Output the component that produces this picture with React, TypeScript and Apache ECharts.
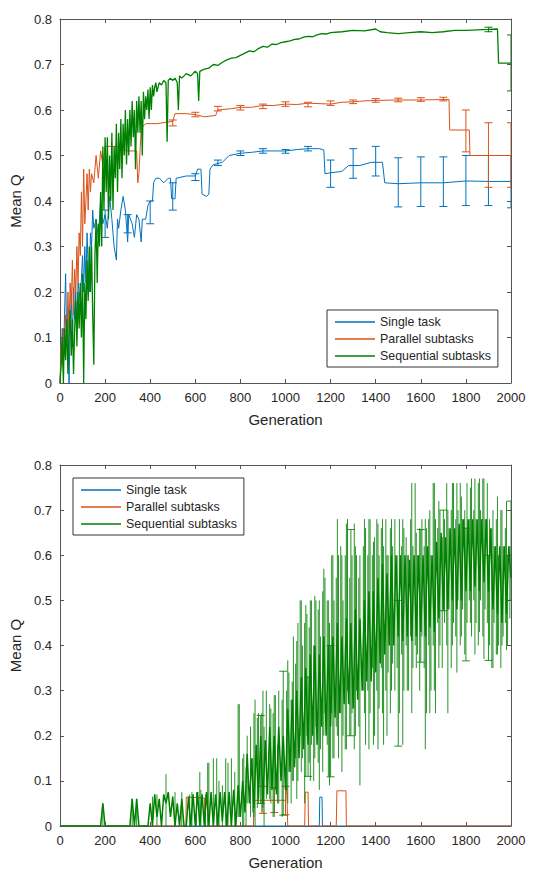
import React, { useEffect, useRef } from "react";
import * as echarts from "echarts";

// ---------------- DATA ----------------
const GEN_TICK_INTERVAL = 200;
const Q_TICK_INTERVAL = 0.1;
const SERIES_NAMES = ["Single task", "Parallel subtasks", "Sequential subtasks"];

// Top panel: [generation, mean Q]
const topSingle: [number, number][] = [
  [0, 0], [5, 0.05], [10, 0.12], [15, 0.03], [20, 0.15], [25, 0.24], [30, 0.08], [35, 0.16], [40, 0.0], [45, 0.12],
  [50, 0.2], [55, 0.08], [60, 0.21], [65, 0.14], [70, 0.2], [75, 0.12], [80, 0.22], [90, 0.18], [100, 0.28], [105, 0.2],
  [110, 0.3], [115, 0.22], [120, 0.33], [125, 0.25], [130, 0.2], [135, 0.33], [140, 0.3], [145, 0.38], [150, 0.34],
  [160, 0.36], [170, 0.32], [180, 0.4], [190, 0.35], [200, 0.37], [210, 0.34], [220, 0.41], [230, 0.36], [240, 0.3],
  [250, 0.27], [255, 0.36], [260, 0.34], [270, 0.38], [280, 0.41], [290, 0.38], [300, 0.31], [305, 0.37], [320, 0.35],
  [330, 0.32], [340, 0.37], [350, 0.36], [360, 0.31], [365, 0.36], [380, 0.36], [390, 0.39], [400, 0.4], [410, 0.4],
  [415, 0.44], [425, 0.45], [440, 0.45], [460, 0.44], [480, 0.45], [490, 0.45], [495, 0.405], [510, 0.405], [515, 0.45],
  [560, 0.455], [600, 0.455], [610, 0.47], [625, 0.47], [630, 0.415], [650, 0.41], [660, 0.415], [665, 0.47], [680, 0.48],
  [720, 0.485], [750, 0.5], [800, 0.505], [850, 0.507], [900, 0.51], [950, 0.51], [1000, 0.51], [1050, 0.513],
  [1100, 0.515], [1150, 0.515], [1170, 0.512], [1175, 0.46], [1200, 0.462], [1250, 0.465], [1280, 0.478], [1330, 0.478],
  [1380, 0.485], [1430, 0.485], [1440, 0.44], [1500, 0.438], [1600, 0.44], [1700, 0.44], [1800, 0.444], [1900, 0.443],
  [2000, 0.443],
];

const topParallel: [number, number][] = [
  [0, 0], [5, 0.08], [10, 0.04], [15, 0.12], [20, 0.06], [25, 0.15], [30, 0.09], [35, 0.2], [40, 0.12], [45, 0.22],
  [50, 0.17], [55, 0.27], [60, 0.15], [65, 0.25], [70, 0.2], [75, 0.3], [80, 0.22], [85, 0.33], [90, 0.28], [95, 0.42],
  [100, 0.3], [105, 0.47], [110, 0.35], [115, 0.4], [120, 0.46], [125, 0.38], [130, 0.47], [135, 0.42], [140, 0.46],
  [150, 0.44], [160, 0.5], [170, 0.45], [180, 0.51], [190, 0.48], [200, 0.52], [250, 0.52], [300, 0.51], [340, 0.51],
  [345, 0.44], [350, 0.46], [360, 0.56], [380, 0.57], [430, 0.57], [470, 0.573], [500, 0.575], [510, 0.592], [560, 0.592],
  [600, 0.59], [640, 0.585], [690, 0.588], [700, 0.6], [760, 0.603], [800, 0.606], [850, 0.606], [900, 0.61], [950, 0.61],
  [1000, 0.613], [1050, 0.612], [1100, 0.615], [1200, 0.613], [1250, 0.617], [1300, 0.618], [1350, 0.62], [1400, 0.621],
  [1500, 0.622], [1600, 0.622], [1700, 0.623], [1725, 0.623], [1728, 0.556], [1815, 0.556], [1818, 0.5], [2000, 0.5],
];

const topSequential: [number, number][] = [
  [0, 0], [5, 0.04], [10, 0.1], [15, 0.0], [20, 0.12], [25, 0.05], [30, 0.14], [35, 0.02], [40, 0.1], [45, 0.16],
  [50, 0.06], [55, 0.14], [60, 0.02], [65, 0.12], [70, 0.18], [75, 0.08], [80, 0.2], [85, 0.12], [90, 0.22], [95, 0.1],
  [100, 0.24], [105, 0.0], [110, 0.22], [115, 0.14], [120, 0.27], [125, 0.18], [130, 0.3], [135, 0.2], [140, 0.3],
  [145, 0.15], [150, 0.04], [155, 0.28], [160, 0.36], [165, 0.22], [170, 0.35], [175, 0.3], [180, 0.42], [185, 0.3],
  [190, 0.52], [195, 0.38], [200, 0.54], [205, 0.42], [210, 0.54], [215, 0.36], [220, 0.5], [225, 0.4], [230, 0.55],
  [235, 0.38], [240, 0.52], [245, 0.45], [250, 0.57], [255, 0.42], [260, 0.55], [265, 0.47], [270, 0.58], [275, 0.45],
  [280, 0.57], [285, 0.5], [290, 0.6], [295, 0.48], [300, 0.58], [305, 0.5], [310, 0.6], [315, 0.52], [320, 0.62],
  [325, 0.54], [330, 0.6], [335, 0.47], [340, 0.62], [345, 0.55], [350, 0.63], [355, 0.55], [360, 0.62], [365, 0.5],
  [370, 0.64], [375, 0.58], [380, 0.63], [385, 0.6], [390, 0.645], [395, 0.58], [400, 0.65], [405, 0.6], [410, 0.655],
  [415, 0.63], [420, 0.65], [425, 0.66], [430, 0.64], [440, 0.66], [450, 0.655], [460, 0.665], [470, 0.66], [475, 0.53],
  [480, 0.665], [490, 0.67], [500, 0.665], [510, 0.67], [520, 0.66], [525, 0.6], [530, 0.675], [540, 0.67], [560, 0.68],
  [580, 0.675], [600, 0.685], [610, 0.68], [615, 0.62], [620, 0.685], [640, 0.69], [660, 0.692], [680, 0.7], [700, 0.698],
  [720, 0.705], [740, 0.71], [760, 0.714], [780, 0.715], [800, 0.72], [820, 0.725], [840, 0.73], [860, 0.728], [880, 0.735],
  [900, 0.74], [920, 0.738], [940, 0.745], [960, 0.744], [980, 0.748], [1000, 0.75], [1020, 0.752], [1040, 0.755],
  [1060, 0.756], [1080, 0.76], [1100, 0.762], [1120, 0.761], [1140, 0.765], [1160, 0.768], [1180, 0.767], [1200, 0.77],
  [1250, 0.772], [1300, 0.775], [1350, 0.774], [1400, 0.778], [1420, 0.772], [1450, 0.77], [1500, 0.768], [1550, 0.77],
  [1600, 0.772], [1650, 0.77], [1700, 0.772], [1750, 0.775], [1800, 0.775], [1850, 0.776], [1900, 0.777], [1940, 0.778],
  [1945, 0.703], [2000, 0.703],
];

// Top panel error bars: [generation, low, high]
const topSingleErr: [number, number, number][] = [
  [200, 0.32, 0.38], [300, 0.33, 0.37], [400, 0.35, 0.4], [500, 0.38, 0.44], [600, 0.445, 0.46], [700, 0.478, 0.49],
  [800, 0.5, 0.51], [900, 0.505, 0.515], [1000, 0.505, 0.513], [1100, 0.51, 0.52], [1200, 0.43, 0.49], [1300, 0.45, 0.515],
  [1400, 0.455, 0.52], [1500, 0.387, 0.495], [1600, 0.388, 0.497], [1700, 0.388, 0.497], [1800, 0.39, 0.5],
  [1900, 0.39, 0.5], [2000, 0.385, 0.5],
];
const topParallelErr: [number, number, number][] = [
  [500, 0.565, 0.578], [600, 0.585, 0.595], [700, 0.598, 0.608], [800, 0.6, 0.61], [900, 0.603, 0.613],
  [1000, 0.608, 0.618], [1100, 0.607, 0.617], [1200, 0.61, 0.62], [1300, 0.614, 0.622], [1400, 0.617, 0.625],
  [1500, 0.618, 0.626], [1600, 0.619, 0.627], [1700, 0.62, 0.628], [1800, 0.508, 0.6], [1900, 0.43, 0.572],
  [2000, 0.43, 0.572],
];
const topSequentialErr: [number, number, number][] = [
  [1900, 0.772, 0.782], [2000, 0.642, 0.765],
];

// Bottom panel: mean Q sampled every 10 generations
const BOTTOM_STEP = 10;
const bottomSequential: number[] = [
  0, 0, 0, 0, 0, 0, 0, 0, 0, 0, 0, 0, 0, 0, 0, 0, 0, 0, 0, 0.05,
  0, 0, 0, 0, 0, 0, 0, 0, 0, 0, 0, 0, 0.06, 0, 0.06, 0, 0, 0, 0, 0,
  0.05, 0, 0.07, 0.02, 0.06, 0, 0.07, 0.05, 0.075, 0.02,
  0.065, 0, 0.05, 0, 0.06, 0, 0, 0.065, 0.0, 0.07,
  0.0, 0.075, 0.0, 0.07, 0, 0.075, 0.0, 0.075, 0, 0.07,
  0.0, 0.075, 0.01, 0.075, 0, 0.075, 0.0, 0.08, 0, 0.09,
  0.02, 0.1, 0.03, 0.16, 0.05, 0.15, 0.04, 0.18, 0.06, 0.2,
  0.05, 0.19, 0.07, 0.22, 0.08, 0.2, 0.07, 0.22, 0.1, 0.2,
  0.08, 0.26, 0.12, 0.28, 0.13, 0.3, 0.15, 0.33, 0.17, 0.35,
  0.18, 0.38, 0.2, 0.4, 0.18, 0.38, 0.22, 0.42, 0.2, 0.4,
  0.22, 0.42, 0.24, 0.45, 0.25, 0.42, 0.27, 0.46, 0.27, 0.45,
  0.26, 0.48, 0.28, 0.46, 0.3, 0.5, 0.32, 0.52, 0.32, 0.52,
  0.34, 0.55, 0.36, 0.58, 0.38, 0.56, 0.4, 0.6, 0.4, 0.6,
  0.42, 0.6, 0.41, 0.6, 0.42, 0.59, 0.41, 0.6, 0.42, 0.6,
  0.43, 0.6, 0.42, 0.62, 0.44, 0.6, 0.43, 0.63, 0.46, 0.65,
  0.48, 0.64, 0.48, 0.66, 0.5, 0.66, 0.48, 0.67, 0.5, 0.68,
  0.52, 0.68, 0.52, 0.68, 0.53, 0.68, 0.52, 0.68, 0.54, 0.68,
  0.52, 0.66, 0.48, 0.62, 0.47, 0.62, 0.45, 0.62, 0.47, 0.62,
  0.55,
];

const bottomSingle: [number, number][] = [
  [0, 0], [1150, 0], [1152, 0.064], [1162, 0.064], [1164, 0], [2000, 0],
];
const bottomParallel: [number, number][] = [
  [0, 0], [558, 0], [560, 0.064], [640, 0.062], [642, 0], [858, 0], [860, 0.057], [1000, 0.057], [1005, 0.09],
  [1010, 0], [1085, 0], [1088, 0.075], [1100, 0.075], [1102, 0], [1225, 0], [1228, 0.078], [1268, 0.078],
  [1270, 0], [2000, 0],
];
const bottomParallelErr: [number, number, number][] = [
  [900, 0.028, 0.088], [950, 0.03, 0.085], [1000, 0.025, 0.088],
];
// Bottom panel sequential-subtask error bars with visible caps
const bottomSequentialErrCapped: [number, number, number][] = [
  [890, 0.05, 0.245], [990, 0.024, 0.343], [1100, 0.11, 0.33], [1200, 0.109, 0.4], [1290, 0.2, 0.657],
  [1500, 0.177, 0.5], [1600, 0.363, 0.657], [1700, 0.477, 0.7], [1800, 0.366, 0.66], [1900, 0.367, 0.6],
  [2000, 0.5, 0.72],
];
// Bottom panel sequential-subtask error bars (caps hidden in the band)
const bottomSequentialErr: [number, number, number][] = [
  [190, 0, 0.05], [320, 0, 0.06], [340, 0, 0.06], [410, 0, 0.065], [430, 0, 0.07], [470, 0, 0.115], [510, 0, 0.075],
  [540, 0, 0.075], [575, 0, 0.07], [585, 0, 0.075], [605, 0, 0.075], [620, 0, 0.12], [625, 0, 0.08], [645, 0, 0.07],
  [655, 0, 0.14], [660, 0, 0.14], [680, 0, 0.15], [695, 0, 0.15], [705, 0, 0.1], [720, 0, 0.09], [735, 0, 0.15],
  [745, 0, 0.14], [760, 0, 0.15], [775, 0, 0.12], [790, 0.02, 0.27], [795, 0.02, 0.27], [810, 0, 0.15], [815, 0, 0.16],
  [825, 0, 0.13], [830, 0.05, 0.2], [845, 0.02, 0.22], [855, 0.03, 0.15], [860, 0.02, 0.25], [865, 0, 0.28],
  [875, 0.04, 0.24], [880, 0.05, 0.25], [895, 0.03, 0.25], [900, 0.04, 0.3], [905, 0, 0.22], [915, 0.06, 0.3],
  [930, 0.06, 0.27], [935, 0.05, 0.26], [945, 0.02, 0.25], [950, 0.02, 0.29], [955, 0.08, 0.29], [965, 0.05, 0.18],
  [970, 0.05, 0.3], [985, 0.02, 0.28], [1005, 0.08, 0.3], [1010, 0.05, 0.367], [1015, 0.12, 0.34], [1025, 0.05, 0.28],
  [1030, 0.1, 0.32], [1035, 0.1, 0.42], [1045, 0.15, 0.36], [1050, 0.06, 0.41], [1055, 0.1, 0.45], [1065, 0.2, 0.5],
  [1070, 0.12, 0.5], [1075, 0.15, 0.4], [1085, 0.05, 0.45], [1090, 0.11, 0.49], [1095, 0.2, 0.47], [1105, 0.14, 0.44],
  [1110, 0.1, 0.5], [1115, 0.18, 0.5], [1125, 0.1, 0.4], [1130, 0.15, 0.51], [1135, 0.22, 0.5], [1145, 0.14, 0.48],
  [1150, 0.08, 0.5], [1155, 0.17, 0.42], [1165, 0.12, 0.52], [1170, 0.2, 0.57], [1175, 0.25, 0.55], [1185, 0.18, 0.5],
  [1190, 0.11, 0.5], [1195, 0.09, 0.45], [1205, 0.25, 0.6], [1210, 0.15, 0.6], [1215, 0.15, 0.5], [1225, 0.22, 0.55],
  [1230, 0.2, 0.68], [1235, 0.15, 0.6], [1245, 0.25, 0.62], [1250, 0.12, 0.6], [1255, 0.2, 0.5], [1265, 0.17, 0.6],
  [1270, 0.17, 0.67], [1275, 0.3, 0.68], [1285, 0.2, 0.55], [1295, 0.25, 0.6], [1305, 0.17, 0.67], [1310, 0.2, 0.62],
  [1315, 0.3, 0.6], [1325, 0.22, 0.55], [1330, 0.09, 0.6], [1345, 0.3, 0.62], [1350, 0.25, 0.68], [1355, 0.18, 0.66],
  [1365, 0.3, 0.6], [1370, 0.17, 0.68], [1375, 0.25, 0.68], [1385, 0.35, 0.6], [1390, 0.18, 0.63], [1395, 0.2, 0.64],
  [1405, 0.3, 0.68], [1410, 0.17, 0.67], [1415, 0.26, 0.6], [1425, 0.35, 0.66], [1430, 0.25, 0.68], [1435, 0.18, 0.62],
  [1445, 0.3, 0.68], [1450, 0.2, 0.6], [1455, 0.34, 0.6], [1465, 0.25, 0.66], [1470, 0.3, 0.68], [1475, 0.36, 0.62],
  [1485, 0.3, 0.68], [1495, 0.35, 0.6], [1505, 0.25, 0.68], [1515, 0.38, 0.62], [1520, 0.18, 0.68], [1525, 0.3, 0.66],
  [1535, 0.4, 0.64], [1540, 0.3, 0.6], [1545, 0.3, 0.6], [1555, 0.42, 0.68], [1560, 0.25, 0.76], [1565, 0.35, 0.62],
  [1575, 0.4, 0.76], [1580, 0.35, 0.65], [1585, 0.38, 0.6], [1595, 0.3, 0.66], [1605, 0.42, 0.68], [1615, 0.35, 0.62],
  [1620, 0.17, 0.68], [1625, 0.25, 0.66], [1635, 0.4, 0.68], [1640, 0.25, 0.7], [1645, 0.3, 0.6], [1655, 0.4, 0.76],
  [1660, 0.3, 0.76], [1665, 0.25, 0.68], [1675, 0.45, 0.66], [1680, 0.35, 0.72], [1685, 0.4, 0.7], [1695, 0.35, 0.64],
  [1705, 0.45, 0.68], [1715, 0.4, 0.76], [1720, 0.25, 0.7], [1725, 0.48, 0.66], [1735, 0.35, 0.7], [1740, 0.4, 0.76],
  [1745, 0.45, 0.76], [1755, 0.42, 0.68], [1760, 0.34, 0.76], [1765, 0.5, 0.7], [1775, 0.4, 0.76], [1780, 0.42, 0.73],
  [1785, 0.48, 0.68], [1795, 0.38, 0.7], [1805, 0.45, 0.76], [1815, 0.5, 0.68], [1820, 0.45, 0.75], [1825, 0.42, 0.77],
  [1835, 0.5, 0.7], [1840, 0.38, 0.77], [1845, 0.45, 0.68], [1855, 0.4, 0.76], [1860, 0.43, 0.77], [1865, 0.5, 0.7],
  [1875, 0.42, 0.77], [1880, 0.37, 0.77], [1885, 0.48, 0.68], [1895, 0.45, 0.76], [1905, 0.4, 0.68], [1915, 0.35, 0.66],
  [1920, 0.35, 0.7], [1925, 0.45, 0.62], [1935, 0.38, 0.68], [1940, 0.38, 0.73], [1945, 0.4, 0.6], [1955, 0.35, 0.7],
  [1960, 0.4, 0.7], [1965, 0.42, 0.62], [1975, 0.45, 0.66], [1980, 0.39, 0.72], [1985, 0.4, 0.6], [1995, 0.46, 0.62],
];

// ---------------- STYLE ----------------
const COLORS = ["#0072BD", "#D95319", "#008000"];
const FONT = "'Liberation Sans', Arial, Helvetica, sans-serif";
const TEXT = "#262626";
const AXIS = "#555555";

function xAxesFor(gridIndex: number) {
  const common = {
    type: "value" as const,
    gridIndex,
    min: 0,
    max: 2000,
    interval: GEN_TICK_INTERVAL,
    splitLine: { show: false },
    axisLine: { show: true, onZero: false, lineStyle: { color: AXIS, width: 1 } },
    axisTick: { show: true, inside: true, length: 4, lineStyle: { color: AXIS } },
  };
  return [
    {
      ...common,
      position: "bottom",
      name: "Generation",
      nameLocation: "middle",
      nameGap: 29,
      nameTextStyle: { fontSize: 15, color: TEXT, fontFamily: FONT },
      axisLabel: {
        color: TEXT,
        fontSize: 13,
        fontFamily: FONT,
        margin: 8,
        formatter: (v: number) => String(Math.round(v)),
      },
    },
    { ...common, position: "top", axisLabel: { show: false } },
  ];
}

function yAxesFor(gridIndex: number) {
  const common = {
    type: "value" as const,
    gridIndex,
    min: 0,
    max: 0.8,
    interval: Q_TICK_INTERVAL,
    splitLine: { show: false },
    axisLine: { show: true, onZero: false, lineStyle: { color: AXIS, width: 1 } },
    axisTick: { show: true, inside: true, length: 4, lineStyle: { color: AXIS } },
  };
  return [
    {
      ...common,
      position: "left",
      name: "Mean Q",
      nameLocation: "middle",
      nameGap: 30,
      nameRotate: 90,
      nameTextStyle: { fontSize: 15, color: TEXT, fontFamily: FONT },
      axisLabel: {
        color: TEXT,
        fontSize: 13,
        fontFamily: FONT,
        margin: 8,
        formatter: (v: number) => (v === 0 ? "0" : v.toFixed(1)),
      },
    },
    { ...common, position: "right", axisLabel: { show: false } },
  ];
}

function lineSeries(
  name: string,
  data: [number, number][],
  color: string,
  axisIndex: number,
  z: number,
  width = 1
) {
  return {
    type: "line",
    name,
    data,
    xAxisIndex: axisIndex,
    yAxisIndex: axisIndex,
    showSymbol: false,
    symbol: "none",
    color,
    lineStyle: { color, width },
    itemStyle: { color },
    silent: true,
    z,
  };
}

function errorSeries(
  name: string,
  data: [number, number, number][],
  color: string,
  axisIndex: number,
  z: number,
  opacity: number,
  capHalf: number
) {
  return {
    type: "custom",
    name,
    data,
    xAxisIndex: axisIndex,
    yAxisIndex: axisIndex,
    clip: true,
    silent: true,
    z,
    encode: { x: 0, y: [1, 2] },
    renderItem: (_params: any, api: any) => {
      const x = api.value(0);
      const lo = api.coord([x, api.value(1)]);
      const hi = api.coord([x, api.value(2)]);
      const style = { stroke: color, lineWidth: 1, opacity };
      const children: any[] = [
        { type: "line", shape: { x1: lo[0], y1: lo[1], x2: hi[0], y2: hi[1] }, style },
      ];
      if (capHalf > 0) {
        children.push(
          { type: "line", shape: { x1: lo[0] - capHalf, y1: lo[1], x2: lo[0] + capHalf, y2: lo[1] }, style },
          { type: "line", shape: { x1: hi[0] - capHalf, y1: hi[1], x2: hi[0] + capHalf, y2: hi[1] }, style }
        );
      }
      return { type: "group", children };
    },
  };
}

function legendAt(left: number, top: number) {
  return {
    data: SERIES_NAMES,
    orient: "vertical",
    left,
    top,
    icon: "rect",
    itemWidth: 40,
    itemHeight: 1.5,
    itemGap: 5,
    padding: [6, 7, 5, 8],
    borderColor: "#333333",
    borderWidth: 1,
    backgroundColor: "#ffffff",
    selectedMode: false,
    textStyle: { fontSize: 12.4, color: TEXT, fontFamily: FONT },
  };
}

export default function App() {
  const ref = useRef<HTMLDivElement>(null);

  useEffect(() => {
    if (!ref.current) return;
    const chart = echarts.init(ref.current, undefined, { renderer: "svg" });

    const bottomSeqPairs: [number, number][] = bottomSequential.map((v, i) => [i * BOTTOM_STEP, v]);

    chart.setOption({
      animation: false,
      backgroundColor: "#ffffff",
      textStyle: { fontFamily: FONT },
      grid: [
        { left: 60, right: 23, top: 19, height: 364 },
        { left: 60, right: 23, top: 465, height: 364 },
      ],
      xAxis: [...xAxesFor(0), ...xAxesFor(1)],
      yAxis: [...yAxesFor(0), ...yAxesFor(1)],
      legend: [legendAt(327, 310), legendAt(73, 478)],
      series: [
        // top panel (axes 0)
        lineSeries(SERIES_NAMES[0], topSingle, COLORS[0], 0, 2),
        errorSeries("Single task error", topSingleErr, COLORS[0], 0, 2, 1, 4),
        lineSeries(SERIES_NAMES[1], topParallel, COLORS[1], 0, 3),
        errorSeries("Parallel subtasks error", topParallelErr, COLORS[1], 0, 3, 1, 4),
        lineSeries(SERIES_NAMES[2], topSequential, COLORS[2], 0, 4, 1.3),
        errorSeries("Sequential subtasks error", topSequentialErr, COLORS[2], 0, 4, 1, 4),
        // bottom panel (axes 2)
        lineSeries(SERIES_NAMES[0], bottomSingle, COLORS[0], 2, 2),
        lineSeries(SERIES_NAMES[1], bottomParallel, COLORS[1], 2, 3),
        errorSeries("Parallel subtasks error (b)", bottomParallelErr, COLORS[1], 2, 3, 1, 4),
        errorSeries("Sequential subtasks spread (b)", bottomSequentialErr, COLORS[2], 2, 4, 0.85, 0),
        errorSeries("Sequential subtasks error (b)", bottomSequentialErrCapped, COLORS[2], 2, 4, 0.85, 4),
        lineSeries(SERIES_NAMES[2], bottomSeqPairs, COLORS[2], 2, 5, 1.5),
      ],
    });

    return () => chart.dispose();
  }, []);

  return (
    <div
      ref={ref}
      style={{ position: "absolute", left: 0, top: 0, width: 534, height: 871, background: "#fff" }}
    />
  );
}
